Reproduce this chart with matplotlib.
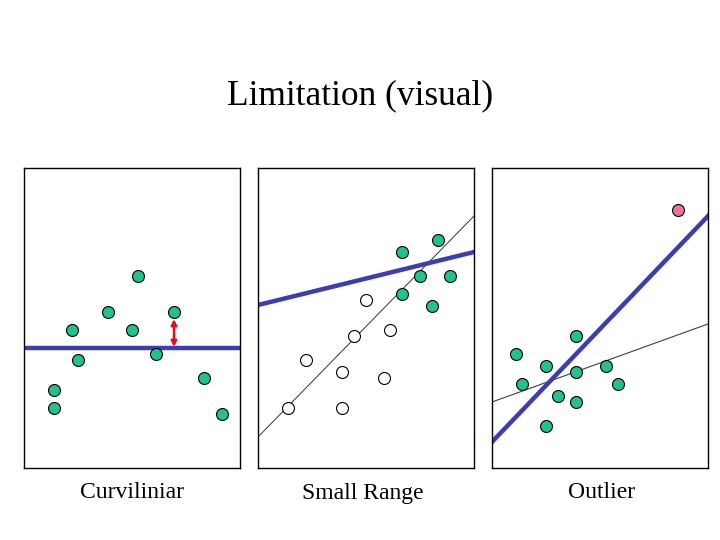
import matplotlib
matplotlib.use("Agg")
import matplotlib.pyplot as plt

# Panel coordinates: x 0..216, y 0..300 (bottom up)
# Panel 1: Curvilinear
p1_x = [114, 84, 48, 108, 150, 132, 54, 30, 30, 180, 198]
p1_y = [192, 156, 138, 138, 156, 114, 108, 78, 60, 90, 54]
p1_line_y = 120
p1_arrow_x = 150
p1_arrow_y = [121, 149]

# Panel 2: Small range
p2_green_x = [180, 144, 162, 192, 144, 174]
p2_green_y = [228, 216, 192, 192, 174, 162]
p2_open_x = [108, 132, 96, 48, 84, 126, 30, 84]
p2_open_y = [168, 138, 132, 108, 96, 90, 60, 60]
p2_thin_x = [0, 216]
p2_thin_y = [31, 252]
p2_thick_x = [0, 216]
p2_thick_y = [163, 216]

# Panel 3: Outlier
p3_green_x = [84, 24, 54, 84, 114, 30, 126, 66, 84, 54]
p3_green_y = [132, 114, 102, 96, 102, 84, 84, 72, 66, 42]
p3_out_x = [186]
p3_out_y = [258]
p3_thick_x = [-1, 216]
p3_thick_y = [25, 252]
p3_thin_x = [0, 216]
p3_thin_y = [66, 144]

title = "Limitation (visual)"
labels = ["Curviliniar", "Small Range", "Outlier"]

GREEN = "#1ec38e"
PINK = "#f0709a"
BLUE = "#3c3cb4"
RED = "#e0101c"

plt.rcParams['font.family'] = ['Liberation Serif', 'DejaVu Serif']

fig = plt.figure(figsize=(7.2, 5.4), dpi=100)
W, H = 720.0, 540.0
lefts = [24, 258, 492]
axes = []
for L in lefts:
    ax = fig.add_axes([L / W, (540 - 468) / H, 216 / W, 300 / H])
    ax.set_xlim(0, 216)
    ax.set_ylim(0, 300)
    ax.set_xticks([])
    ax.set_yticks([])
    for s in ax.spines.values():
        s.set_linewidth(1.0)
        s.set_color("black")
    axes.append(ax)

ms = 8.6
mk = dict(marker='o', linestyle='none', markersize=ms, markeredgecolor='black',
          markeredgewidth=0.8, zorder=3)

ax = axes[0]
ax.axhline(p1_line_y, color=BLUE, linewidth=3.2, zorder=2)
ax.plot(p1_x, p1_y, markerfacecolor=GREEN, **mk)
ax.annotate("", xy=(p1_arrow_x, p1_arrow_y[1]), xytext=(p1_arrow_x, p1_arrow_y[0]),
            arrowprops=dict(arrowstyle='<|-|>', color=RED, lw=1.8,
                            mutation_scale=8, shrinkA=0, shrinkB=0), zorder=4)

ax = axes[1]
ax.plot(p2_thin_x, p2_thin_y, color='#333333', linewidth=0.7, zorder=2)
ax.plot(p2_thick_x, p2_thick_y, color=BLUE, linewidth=3.2, zorder=2)
ax.plot(p2_green_x, p2_green_y, markerfacecolor=GREEN, **mk)
ax.plot(p2_open_x, p2_open_y, markerfacecolor='white', **mk)

ax = axes[2]
ax.plot(p3_thin_x, p3_thin_y, color='#3a3a6a', linewidth=0.8, zorder=2)
ax.plot(p3_thick_x, p3_thick_y, color=BLUE, linewidth=3.2, zorder=2)
ax.plot(p3_green_x, p3_green_y, markerfacecolor=GREEN, **mk)
ax.plot(p3_out_x, p3_out_y, markerfacecolor=PINK, **mk)

fig.text(360 / W, 1 - 96 / H, title, ha='center', va='center', fontsize=25.5)
label_x = [132, 363, 602]
for lx, lab in zip(label_x, labels):
    fig.text(lx / W, 1 - 493 / H, lab, ha='center', va='center', fontsize=17)

fig.savefig("out.png", dpi=100)
